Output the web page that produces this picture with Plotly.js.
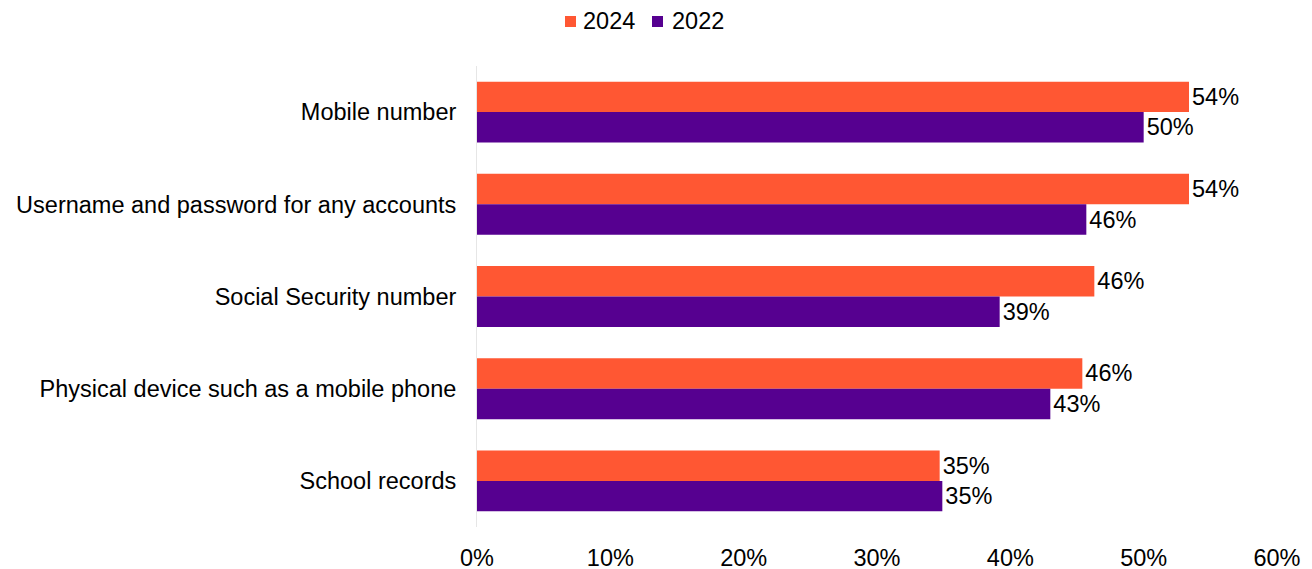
<!DOCTYPE html>
<html>
<head>
<meta charset="utf-8">
<script src="https://cdn.plot.ly/plotly-3.0.1.min.js"></script>
<style>html,body{margin:0;padding:0;background:#fff;}#chart{width:1312px;height:569px;}</style>
</head>
<body>
<div id="chart"></div>
<script>
const categories = ["Mobile number", "Username and password for any accounts", "Social Security number", "Physical device such as a mobile phone", "School records"];
const seriesNames = ["2024", "2022"];
const values2024 = [53.4, 53.4, 46.3, 45.4, 34.7];
const labels2024 = ["54%", "54%", "46%", "46%", "35%"];
const values2022 = [50.0, 45.7, 39.2, 43.0, 34.9];
const labels2022 = ["50%", "46%", "39%", "43%", "35%"];
const xTickVals = [0, 10, 20, 30, 40, 50, 60];
const xTickText = ["0%", "10%", "20%", "30%", "40%", "50%", "60%"];
const colors = ["#FF5733", "#560090"];

const W = 1312, H = 569;
const M = {l: 477, r: 35, t: 66, b: 42};
const font = {family: "Liberation Sans, Arial, sans-serif", size: 23.5, color: "#000"};

// pixel -> paper helpers for the hand-drawn legend
const pw = W - M.l - M.r, ph = H - M.t - M.b;
const px = v => (v - M.l) / pw;
const py = v => (H - M.b - v) / ph;

const traces = [
  {type: "bar", orientation: "h", name: seriesNames[0], y: categories, x: values2024, text: labels2024,
   textposition: "outside", textfont: font, cliponaxis: false, hoverinfo: "none",
   marker: {color: colors[0]}},
  {type: "bar", orientation: "h", name: seriesNames[1], y: categories, x: values2022, text: labels2022,
   textposition: "outside", textfont: font, cliponaxis: false, hoverinfo: "none",
   marker: {color: colors[1]}}
];

const legendItems = [{sq: 565, tx: 581}, {sq: 652, tx: 670}];
const shapes = legendItems.map((it, i) => ({
  type: "rect", xref: "paper", yref: "paper",
  x0: px(it.sq), x1: px(it.sq + 11), y0: py(27), y1: py(16),
  fillcolor: colors[i], line: {width: 0}
}));
const annotations = legendItems.map((it, i) => ({
  xref: "paper", yref: "paper", x: px(it.tx), y: py(21), xanchor: "left", yanchor: "middle",
  text: seriesNames[i], showarrow: false, font: font
}));

const layout = {
  width: W, height: H,
  margin: M,
  paper_bgcolor: "#fff", plot_bgcolor: "#fff",
  font: font,
  barmode: "group", bargap: 0.34, bargroupgap: 0,
  showlegend: false,
  shapes: shapes,
  annotations: annotations,
  xaxis: {range: [0, 60], tickvals: xTickVals, ticktext: xTickText, showgrid: false,
          zeroline: false, showline: false, ticks: "", ticklabelstandoff: 14, tickfont: font,
          fixedrange: true},
  yaxis: {autorange: "reversed", showgrid: false, zeroline: false, showline: true,
          linecolor: "#e6e6e6", linewidth: 1, ticks: "", ticklabelstandoff: 15, tickfont: font,
          fixedrange: true}
};

Plotly.newPlot("chart", traces, layout, {displayModeBar: false, staticPlot: true});
</script>
</body>
</html>
